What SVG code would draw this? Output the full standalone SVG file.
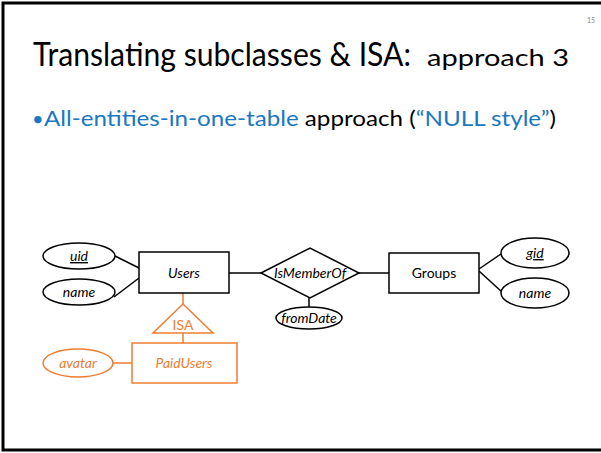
<svg xmlns="http://www.w3.org/2000/svg" width="601" height="453" viewBox="0 0 601 453">
<style>
.t{font-family:Lato,"Open Sans","Liberation Sans",sans-serif;fill:#000}
.b{fill:#1a78c2}
.s{fill:#fff;stroke:#000;stroke-width:1.5}
.o{fill:#fff;stroke:#ed7d31;stroke-width:1.5}
.l{stroke:#000;stroke-width:1.5;fill:none}
.lo{stroke:#ed7d31;stroke-width:1.5;fill:none}
.d{font-family:Lato,"Open Sans","Liberation Sans",sans-serif;font-size:14px;text-anchor:middle;fill:#000}
.i{font-style:italic}
.or{fill:#ed7d31}
</style>
<rect x="0" y="0" width="601" height="453" fill="#fff"/>
<rect x="3" y="3" width="620" height="447" fill="none" stroke="#000" stroke-width="3"/>
<text class="t" x="587" y="23" font-size="7" style="fill:#888">15</text>
<text class="t" y="66" font-size="33"><tspan x="33" textLength="378" lengthAdjust="spacingAndGlyphs">Translating subclasses &amp; ISA:</tspan><tspan x="427" font-size="24" textLength="142" lengthAdjust="spacingAndGlyphs">approach 3</tspan></text>
<text class="t" x="32" y="126" font-size="20"><tspan class="b">•</tspan></text>
<text class="t" x="44" y="126" font-size="22" textLength="512" lengthAdjust="spacingAndGlyphs"><tspan class="b">All-entities-in-one-table</tspan> approach (<tspan class="b">“NULL style”</tspan>)</text>
<g id="connectors">
<line class="l" x1="115" y1="256" x2="139" y2="268"/>
<line class="l" x1="114" y1="297" x2="139" y2="278"/>
<line class="l" x1="229" y1="273" x2="261" y2="273"/>
<line class="l" x1="359" y1="273" x2="389" y2="273"/>
<line class="l" x1="309" y1="298" x2="309" y2="308"/>
<line class="l" x1="479" y1="269" x2="501" y2="254"/>
<line class="l" x1="479" y1="271" x2="502" y2="292"/>
<line class="lo" x1="183" y1="293" x2="183" y2="304"/>
<line class="lo" x1="183" y1="333" x2="183" y2="343"/>
<line class="lo" x1="113" y1="363" x2="132" y2="363"/>
</g>
<g id="uid"><ellipse class="s" cx="79" cy="256" rx="36" ry="13"/><text class="d i" x="79" y="261" text-decoration="underline">uid</text></g>
<g id="uname"><ellipse class="s" cx="79" cy="292" rx="36" ry="13"/><text class="d i" x="79" y="297">name</text></g>
<g id="users"><rect class="s" x="139" y="252" width="90" height="41"/><text class="d i" x="184" y="278">Users</text></g>
<g id="ismemberof"><polygon class="s" points="261,273 310,248 359,273 310,298"/><text class="d i" x="310" y="278">IsMemberOf</text></g>
<g id="fromdate"><ellipse class="s" cx="309" cy="318" rx="33" ry="11"/><text class="d i" x="309" y="323">fromDate</text></g>
<g id="groups"><rect class="s" x="389" y="253" width="90" height="40"/><text class="d" x="434" y="278">Groups</text></g>
<g id="gid"><ellipse class="s" cx="535" cy="253" rx="34" ry="15"/><text class="d i" x="535" y="258" text-decoration="underline">gid</text></g>
<g id="gname"><ellipse class="s" cx="535" cy="293" rx="34" ry="15"/><text class="d i" x="535" y="298">name</text></g>
<g id="isa"><polygon class="o" points="183,304 213,333 153,333"/><text class="d or" x="183" y="330">ISA</text></g>
<g id="paidusers"><rect class="o" x="132" y="343" width="105" height="40"/><text class="d i or" x="184" y="368">PaidUsers</text></g>
<g id="avatar"><ellipse class="o" cx="78" cy="363" rx="35" ry="14"/><text class="d i or" x="78" y="368">avatar</text></g>
</svg>
